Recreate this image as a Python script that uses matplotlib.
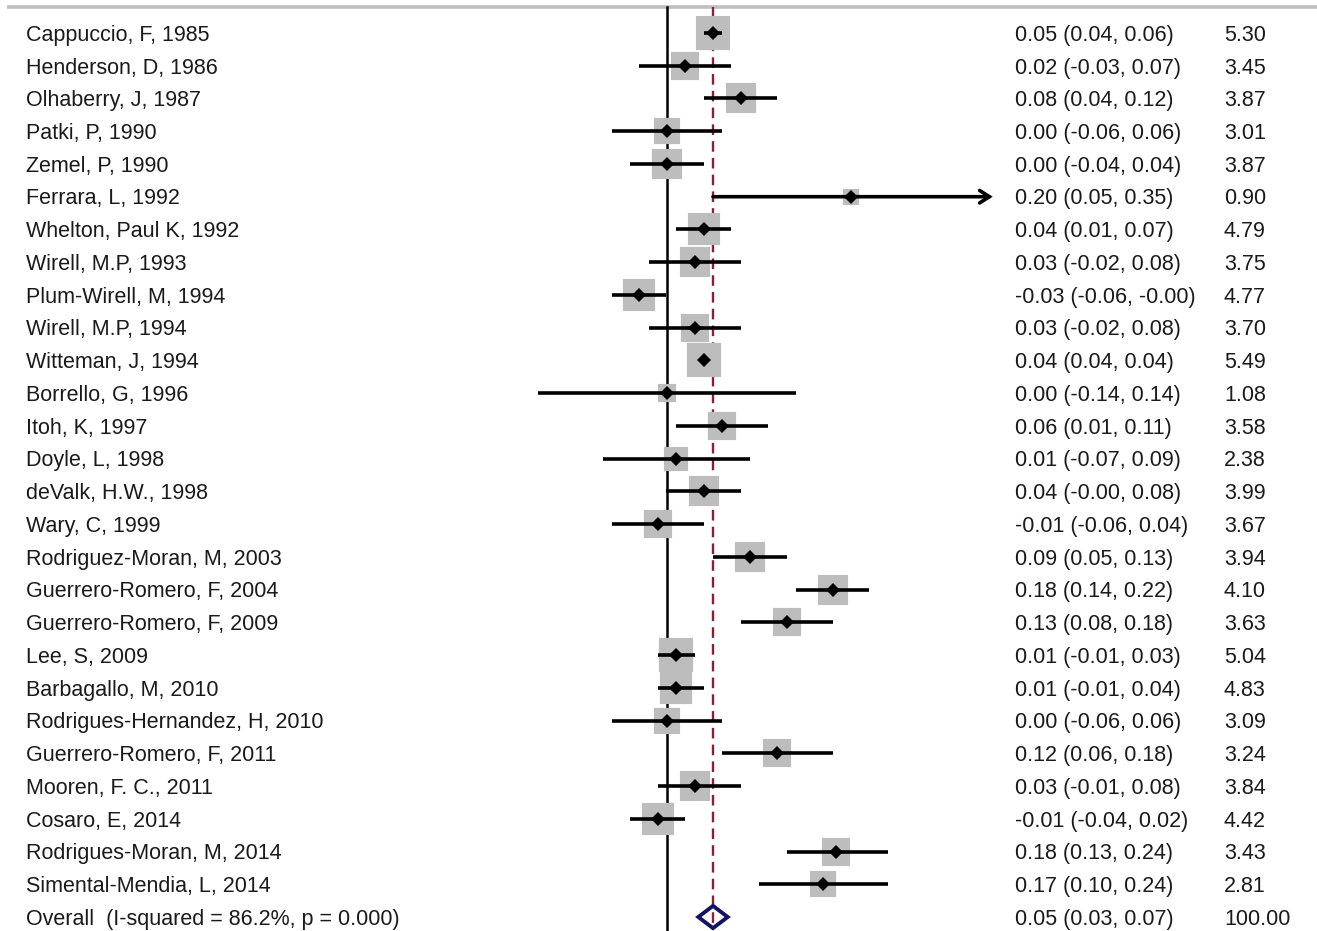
import matplotlib
matplotlib.use("Agg")
import matplotlib.pyplot as plt
import matplotlib.transforms as mtransforms
import numpy as np

plt.rcParams['font.family'] = ['Liberation Sans', 'DejaVu Sans']

studies = [
    "Cappuccio, F, 1985", "Henderson, D, 1986", "Olhaberry, J, 1987", "Patki, P, 1990",
    "Zemel, P, 1990", "Ferrara, L, 1992", "Whelton, Paul K, 1992", "Wirell, M.P, 1993",
    "Plum-Wirell, M, 1994", "Wirell, M.P, 1994", "Witteman, J, 1994", "Borrello, G, 1996",
    "Itoh, K, 1997", "Doyle, L, 1998", "deValk, H.W., 1998", "Wary, C, 1999",
    "Rodriguez-Moran, M, 2003", "Guerrero-Romero, F, 2004", "Guerrero-Romero, F, 2009",
    "Lee, S, 2009", "Barbagallo, M, 2010", "Rodrigues-Hernandez, H, 2010",
    "Guerrero-Romero, F, 2011", "Mooren, F. C., 2011", "Cosaro, E, 2014",
    "Rodrigues-Moran, M, 2014", "Simental-Mendia, L, 2014",
]
est = [0.05, 0.02, 0.08, 0.00, 0.00, 0.20, 0.04, 0.03, -0.03, 0.03, 0.04, 0.00,
       0.06, 0.01, 0.04, -0.01, 0.09, 0.18, 0.13, 0.01, 0.01, 0.00, 0.12, 0.03,
       -0.01, 0.184, 0.17]
lo = [0.04, -0.03, 0.04, -0.06, -0.04, 0.05, 0.01, -0.02, -0.06, -0.02, 0.04, -0.14,
      0.01, -0.07, -0.001, -0.06, 0.05, 0.14, 0.08, -0.01, -0.01, -0.06, 0.06, -0.01,
      -0.04, 0.13, 0.10]
hi = [0.06, 0.07, 0.12, 0.06, 0.04, 0.354, 0.07, 0.08, -0.001, 0.08, 0.04, 0.14,
      0.11, 0.09, 0.08, 0.04, 0.13, 0.22, 0.18, 0.03, 0.04, 0.06, 0.18, 0.08,
      0.02, 0.24, 0.24]
weights = [5.30, 3.45, 3.87, 3.01, 3.87, 0.90, 4.79, 3.75, 4.77, 3.70, 5.49, 1.08,
           3.58, 2.38, 3.99, 3.67, 3.94, 4.10, 3.63, 5.04, 4.83, 3.09, 3.24, 3.84,
           4.42, 3.43, 2.81]
overall_label = "Overall  (I-squared = 86.2%, p = 0.000)"
overall_est, overall_lo, overall_hi, overall_w = 0.05, 0.034, 0.066, 100.00
arrow_studies = ["Ferrara, L, 1992"]

W, H = 1317, 931
DPI = 100
fig = plt.figure(figsize=(W / DPI, H / DPI), dpi=DPI)
ax = fig.add_axes([0, 0, 1, 1])
ax.set_axis_off()

# pixel mapping
x0_px, px_per_unit = 667.0, 920.0
ax.set_xlim(-x0_px / px_per_unit, (W - x0_px) / px_per_unit)
row0_px, row_last_px = 33.0, 917.0
n_rows = len(studies) + 1
px_per_row = (row_last_px - row0_px) / (n_rows - 1)
ax.set_ylim(n_rows - 1 + (H - row_last_px) / px_per_row, -row0_px / px_per_row)

top_y = -(row0_px - 7) / px_per_row
bottom_y = n_rows - 1 + (H - row_last_px) / px_per_row

trans = mtransforms.blended_transform_factory(ax.transAxes, ax.transData)
text_color = '#1a1a1a'
fs = 15.5
ty = 0.07  # text vertical offset (rows)

# top rule
ax.plot([7 / W, 1.0], [top_y, top_y], transform=trans, color='#bfbfbf', lw=2.6,
        solid_capstyle='butt', zorder=1)

# null line
ax.plot([0, 0], [top_y, bottom_y], color='black', lw=1.8, zorder=1)
# overall effect dashed line
ax.plot([overall_est, overall_est], [top_y, n_rows - 1 + 0.25], color='#8b2035', lw=1.7,
        linestyle=(0, (4.5, 2.6)), zorder=1)

box_col = '#bdbdbd'
mew = 3.0
for i, (name, e, l, h, w) in enumerate(zip(studies, est, lo, hi, weights)):
    side_px = 13.0 * np.sqrt(w) + 4.0
    side_pt = side_px * 72 / DPI
    ax.plot([e], [i], marker='s', markersize=side_pt - mew, color=box_col,
            markeredgecolor=box_col, markeredgewidth=mew, linestyle='none', zorder=2)
    if name in arrow_studies:
        ax.annotate('', xy=(h, i), xytext=(l, i),
                    arrowprops=dict(arrowstyle='->,head_length=0.7,head_width=0.45',
                                    lw=2.6, color='black', shrinkA=0, shrinkB=0,
                                    joinstyle='miter'),
                    zorder=3)
    else:
        ax.plot([l, h], [i, i], color='black', lw=2.6, solid_capstyle='butt', zorder=3)
    ax.plot([e], [i], marker='D', markersize=7.5, color='black', markeredgewidth=0,
            linestyle='none', zorder=4)
    ax.text(26 / W, i + ty, name, transform=trans, fontsize=fs, color=text_color,
            va='center', ha='left')
    ax.text(1015 / W, i + ty, f"{e:.2f} ({l:.2f}, {h:.2f})", transform=trans, fontsize=fs,
            color=text_color, va='center', ha='left')
    ax.text(1224 / W, i + ty, f"{w:.2f}", transform=trans, fontsize=fs, color=text_color,
            va='center', ha='left')

# overall diamond
yo = n_rows - 1
hh = 0.34
ax.fill([overall_lo, overall_est, overall_hi, overall_est, overall_lo],
        [yo, yo - hh, yo, yo + hh, yo], facecolor='none', edgecolor='#141466', lw=2.8,
        joinstyle='miter', zorder=5)
ax.text(26 / W, yo + ty, overall_label, transform=trans, fontsize=fs, color=text_color,
        va='center', ha='left')
ax.text(1015 / W, yo + ty, f"{overall_est:.2f} ({overall_lo:.2f}, {overall_hi:.2f})",
        transform=trans, fontsize=fs, color=text_color, va='center', ha='left')
ax.text(1224 / W, yo + ty, f"{overall_w:.2f}", transform=trans, fontsize=fs,
        color=text_color, va='center', ha='left')

fig.savefig("out.png", dpi=DPI, facecolor='white')
